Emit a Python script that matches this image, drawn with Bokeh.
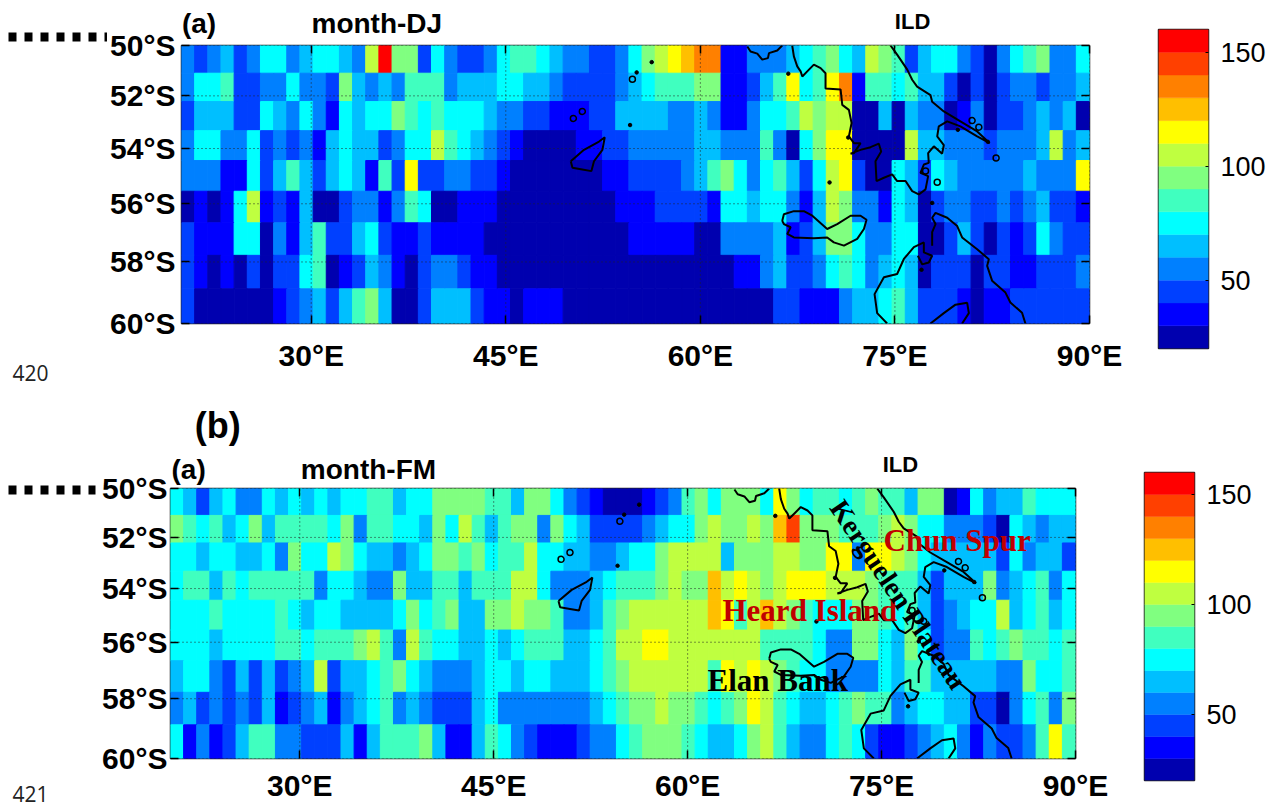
import math
import numpy as np
from bokeh.embed import file_html
from bokeh.layouts import column, row
from bokeh.models import FixedTicker, Label, LinearAxis, Range1d, ColumnDataSource
from bokeh.plotting import figure
from bokeh.resources import INLINE
from bokeh.transform import linear_cmap
from bokeh.core.properties import value

PALETTE = ["#0000AF", "#0000FF", "#0040FF", "#0080FF", "#00BFFF", "#00FFFF", "#40FFBF",
           "#80FF80", "#BFFF40", "#FFFF00", "#FFBF00", "#FF8000", "#FF4000", "#FF0000"]

LON_TICKS = [30, 45, 60, 75, 90]
LON_LABELS = ["30°E", "45°E", "60°E", "75°E", "90°E"]
LAT_TICKS = [50, 52, 54, 56, 58, 60]
LAT_LABELS = ["50°S", "52°S", "54°S", "56°S", "58°S", "60°S"]
BAR_TICKS = [50, 100, 150]

DJ_R0 = [55,45,55,65,45,55,75,75,55,65,75,75,65,55,105,155,95,95,45,75,55,45,45,55,75,85,85,75,65,55,55,45,45,55,75,
         95,105,115,125,135,135,35,35,55,55,55,65,75,85,95,75,65,105,95,85,45,65,75,75,55,45,25,55,75,85,95,55,55,75]
DJ_R1 = [55,75,75,85,45,45,55,55,75,55,55,45,95,65,55,65,55,85,85,85,55,65,65,65,75,75,65,65,55,45,45,45,45,55,
         65,75,85,85,85,95,95,35,35,45,65,85,115,75,85,115,135,35,85,85,75,85,65,65,45,25,45,25,45,55,55,45,55,55,65]
DJ_R2 = [45,65,65,65,45,45,75,65,55,75,55,35,75,65,75,75,95,85,75,85,75,75,75,65,55,55,45,45,35,35,35,45,45,65,
         65,65,65,55,55,65,55,35,35,55,75,75,85,105,95,105,105,25,25,65,25,65,55,55,25,35,55,25,45,45,55,65,55,65,25]
DJ_R3 = [55,75,75,55,55,75,45,55,45,55,35,65,75,65,65,45,55,75,75,105,85,75,65,55,45,35,25,25,25,25,35,35,45,45,
         55,55,55,55,55,65,65,55,55,55,85,55,25,75,95,115,115,25,25,25,25,105,65,65,55,55,55,45,55,55,55,65,105,55,65]
DJ_R4 = [55,55,55,35,35,75,45,65,85,65,45,65,75,65,35,85,45,115,45,45,55,55,45,45,35,25,25,25,25,25,25,25,35,35,
         45,45,45,45,55,65,85,95,75,55,75,85,65,45,75,105,115,45,25,25,75,65,45,75,65,55,55,55,55,55,65,55,55,55,115]
DJ_R5 = [25,35,25,35,75,105,35,45,35,65,25,25,45,55,55,35,55,85,75,25,25,35,35,35,25,25,25,25,25,25,25,25,25,35,
         35,35,45,45,45,45,35,75,75,65,75,75,55,35,65,105,95,55,55,35,75,65,25,45,55,55,45,45,55,45,55,65,45,45,35]
DJ_R6 = [45,35,35,35,75,75,25,55,35,65,85,45,45,65,75,45,35,35,45,35,35,35,35,25,25,25,25,25,25,25,25,25,25,25,
         35,35,35,35,35,25,25,55,55,55,55,65,35,45,65,95,95,75,55,55,75,75,25,25,45,65,45,25,45,35,45,75,55,45,45]
DJ_R7 = [45,35,25,35,25,45,25,45,45,75,85,25,35,45,65,55,35,25,45,55,55,45,35,35,25,25,25,25,25,25,25,25,25,25,
         25,25,25,25,25,25,25,25,35,35,55,65,45,45,55,75,85,75,55,65,75,65,25,45,45,45,25,45,45,35,35,45,45,45,55]
DJ_R8 = [45,25,25,25,25,25,25,35,45,55,65,45,65,85,95,65,25,25,45,65,65,65,45,35,35,25,35,35,35,25,25,25,25,25,
         25,25,25,25,25,25,25,25,25,25,25,45,45,35,35,35,55,65,65,75,85,65,45,45,45,35,25,35,35,45,45,45,45,45,45]
DJ_ROWS = [DJ_R0, DJ_R1, DJ_R2, DJ_R3, DJ_R4, DJ_R5, DJ_R6, DJ_R7, DJ_R8]

FM_R0 = [75,65,45,65,75,55,55,75,65,75,65,75,65,75,75,85,85,65,75,75,95,95,95,95,85,85,65,95,95,75,55,45,35,25,
         25,25,35,45,55,85,95,75,95,95,95,75,115,95,75,85,85,75,85,95,85,85,65,95,95,25,35,75,55,65,65,85,75,75,75]
FM_R1 = [95,85,75,85,65,75,95,65,85,85,85,85,75,95,55,85,85,75,75,65,95,75,105,85,65,85,95,95,55,95,75,65,45,45,
         45,45,55,65,75,75,95,105,95,95,105,95,125,145,95,95,95,85,85,85,95,105,95,75,75,55,55,55,45,25,75,65,55,65,65]
FM_R2 = [75,75,65,75,75,65,65,75,55,95,75,75,105,95,75,65,65,55,65,75,95,95,85,95,75,85,85,105,75,75,65,65,55,55,
         65,75,75,95,105,105,105,105,65,95,95,95,105,105,95,95,115,115,55,115,115,105,95,75,65,65,65,65,65,45,75,55,65,65,45]
FM_R3 = [75,85,85,65,85,75,85,85,85,85,85,55,75,75,65,55,55,95,65,65,85,85,65,85,85,85,105,105,75,55,55,55,65,75,
         85,85,85,95,105,95,95,125,105,115,105,95,105,115,115,115,105,105,105,95,85,85,85,65,45,65,65,65,95,55,65,75,85,55,75]
FM_R4 = [75,75,75,85,75,75,75,75,85,75,65,75,75,65,65,65,65,75,95,75,85,95,65,65,95,95,105,95,95,85,55,55,65,85,
         95,105,105,105,105,105,105,125,115,85,105,125,105,95,85,75,75,75,95,95,85,75,85,65,45,55,65,75,75,105,65,75,85,65,75]
FM_R5 = [75,75,75,65,75,75,75,75,85,85,75,85,85,85,95,105,85,55,105,85,75,75,65,65,75,65,75,85,85,85,65,65,75,85,
         105,105,115,115,105,105,105,105,105,105,105,85,85,85,85,75,55,55,95,95,75,65,95,75,45,55,55,85,75,85,95,85,85,75,85]
FM_R6 = [65,75,75,55,45,65,45,65,45,55,65,105,45,65,65,75,85,95,75,65,55,55,55,65,75,75,65,75,75,65,65,65,75,85,
         95,105,105,105,105,105,105,85,115,105,115,105,95,85,75,75,55,55,55,55,75,65,85,85,65,65,65,65,65,55,55,95,75,75,85]
FM_R7 = [55,65,45,55,45,55,45,65,35,45,55,65,35,55,65,75,85,55,65,55,45,45,45,65,75,55,55,55,55,55,55,55,65,75,
         85,95,95,105,95,95,85,75,85,95,115,105,85,75,65,65,75,85,95,85,85,55,65,75,75,65,65,45,45,25,55,75,85,55,95]
FM_R8 = [75,35,55,35,45,65,85,85,55,55,45,45,45,65,35,65,85,85,85,95,65,35,35,65,85,75,55,45,35,35,35,45,55,55,
         75,85,95,95,95,85,75,65,65,75,95,105,85,65,55,55,75,85,75,45,35,35,45,55,65,75,55,35,55,45,45,55,85,115,85]
FM_ROWS = [FM_R0, FM_R1, FM_R2, FM_R3, FM_R4, FM_R5, FM_R6, FM_R7, FM_R8]

# coastlines, (lon, lat south)
COAST_A_LON = [63.62,63.87,64.39,64.77,65.21,65.29,65.93,66.31]
COAST_A_LAT = [50.04,50.24,50.33,50.57,50.51,50.31,50.2,50.0]
COAST_B_LON = [67.08,67.21,67.47,67.73,67.86,68.24,68.75,69.27,69.65,69.65,70.81,70.94,71.45,71.66,71.45,71.84,72.35,71.84,71.58,72.35,73.12,73.76,73.94,73.5,73.58,74.15,74.79,75.17,75.82,76.33,76.84,77.36,77.56,76.97,77.23,77.61,77.56,78.0,78.64,78.77,78.26,78.38,79.03,80.05,81.34,82.31,81.34,80.05,78.77,77.87,77.74,76.71,76.33,75.95,75.17,74.66]
COAST_B_LAT = [50.0,50.44,50.84,51.04,51.24,51.04,50.77,50.91,51.11,51.71,51.75,52.35,52.54,53.04,53.55,53.8,53.8,54.17,54.19,54.05,53.95,53.82,54.11,54.47,55.19,55.07,54.95,55.19,55.19,55.55,55.67,55.49,55.01,54.89,54.59,54.53,54.17,53.92,54.19,53.87,53.55,53.17,52.98,53.17,53.55,53.8,53.36,52.98,52.6,52.23,51.97,51.64,51.37,50.97,50.37,50.0]
COAST_C_LON = [66.31,66.44,67.21,67.98,68.63,69.78,70.55,71.58,72.35,72.81,72.61,72.09,71.07,70.29,69.78,68.75,67.21,66.7,66.96,66.44,66.31]
COAST_C_LAT = [56.6,56.37,56.26,56.26,56.42,56.88,56.71,56.42,56.42,56.56,56.88,57.22,57.45,57.34,57.17,57.2,57.17,57.05,56.82,56.71,56.6]
COAST_D_LON = [74.4,73.63,73.43,74.15,75.17,75.69,76.46,77.23,77.23,77.87,77.61,77.1,76.77]
COAST_D_LAT = [60,59.67,59.06,58.51,58.4,57.9,57.5,57.34,57.68,57.79,58.02,58.08,57.79]
COAST_G_LON = [77.87,77.87,78.13,77.87,78.13,79.03,79.8,80.18,81.34,82.24,82.11,82.49,83.52,83.9,84.8,85.06]
COAST_G_LAT = [57.45,56.99,56.71,56.49,56.32,56.49,56.78,57.17,57.57,57.91,58.13,58.62,59.01,59.33,59.66,60]
COAST_E_LON = [77.74,78.77,79.67,80.57,80.7,80.18]
COAST_E_LAT = [60,59.67,59.4,59.34,59.67,60]
COAST_F_LON = [50.01,51.03,52.19,52.63,52.45,51.8,51.6,50.9,50.14,50.01]
COAST_F_LAT = [54.47,54.05,53.74,53.58,54.05,54.47,54.83,54.77,54.71,54.47]
RING_LON = [54.76,82.8,78.26,77.36,80.95,81.47,50.21,50.9]
RING_LAT = [51.35,54.35,55.23,54.83,52.95,53.2,52.87,52.6]
DOT_LON = [55.09,54.58,56.25,66.78,69.96,71.4,77.87,77.05,79.85,82.16]
DOT_LAT = [51.08,53.12,50.67,51.13,55.24,53.59,55.97,58.26,53.3,53.75]

SANS = "Liberation Sans"
SERIF = "Liberation Serif"


def merc(lat):
    return -math.log(math.tan(math.pi / 4 + math.radians(lat) / 2))


def panel(rows, width, height, left, right, top, bottom, xstand, ystand):
    lon_edges = np.linspace(20, 90, 70)
    lat_edges = np.linspace(50, 60, 10)
    l, r, t, b, v = [], [], [], [], []
    for i, vals in enumerate(rows):
        for j, val in enumerate(vals):
            l.append(lon_edges[j]); r.append(lon_edges[j + 1])
            t.append(merc(lat_edges[i])); b.append(merc(lat_edges[i + 1]))
            v.append(val)
    ytk = [round(merc(x), 8) for x in LAT_TICKS]
    p = figure(width=width, height=height, x_range=Range1d(20, 90),
               y_range=Range1d(ytk[-1] - 1e-6, ytk[0] + 1e-6), frame_align=False,
               min_border_left=left, min_border_right=right, min_border_top=top, min_border_bottom=bottom,
               output_backend="svg", toolbar_location=None, tools="")
    cmap = linear_cmap("v", PALETTE, 20, 160)
    p.quad(left="l", right="r", top="t", bottom="b", source=ColumnDataSource(dict(l=l, r=r, t=t, b=b, v=v)),
           fill_color=cmap, line_color=cmap, line_width=1)
    p.grid.visible = False
    p.segment(LON_TICKS, [ytk[-1]] * 5, LON_TICKS, [ytk[0]] * 5, line_color="#222222", line_dash="1 3", line_width=1)
    p.segment([20] * 6, ytk, [90] * 6, ytk, line_color="#222222", line_dash="1 3", line_width=1)
    lons = [COAST_A_LON, COAST_B_LON, COAST_C_LON, COAST_D_LON, COAST_G_LON, COAST_E_LON, COAST_F_LON]
    lats = [COAST_A_LAT, COAST_B_LAT, COAST_C_LAT, COAST_D_LAT, COAST_G_LAT, COAST_E_LAT, COAST_F_LAT]
    p.multi_line(lons, [[merc(a) for a in s] for s in lats], line_color="black", line_width=2)
    p.scatter(RING_LON, [merc(a) for a in RING_LAT], marker="circle", size=6, fill_color=None,
              line_color="black", line_width=1.5)
    p.scatter(DOT_LON, [merc(a) for a in DOT_LAT], marker="circle", size=3.5, fill_color="black", line_color="black")

    p.below[0].ticker = FixedTicker(ticks=LON_TICKS)
    p.below[0].major_label_overrides = dict(zip(LON_TICKS, LON_LABELS))
    p.left[0].ticker = FixedTicker(ticks=ytk)
    p.left[0].major_label_overrides = dict(zip(ytk, LAT_LABELS))
    p.add_layout(LinearAxis(ticker=FixedTicker(ticks=LON_TICKS)), "above")
    p.add_layout(LinearAxis(ticker=FixedTicker(ticks=ytk)), "right")
    for ax in p.above + p.right:
        ax.major_label_text_font_size = "1px"
        ax.major_label_text_color = None
        ax.major_label_standoff = 0
    for ax in p.above + p.right + p.left + p.below:
        ax.major_tick_in = 8
        ax.major_tick_out = 0
        ax.major_tick_line_color = "black"
        ax.major_tick_line_width = 1.5
        ax.minor_tick_line_color = None
        ax.axis_line_color = None
    for ax in p.left + p.below:
        ax.major_label_text_font = SANS
        ax.major_label_text_font_style = "bold"
        ax.major_label_text_font_size = "30px"
        ax.major_label_text_color = "black"
    p.left[0].major_label_standoff = ystand
    p.below[0].major_label_standoff = xstand
    p.outline_line_color = "#222222"
    p.outline_line_width = 1.5
    p.background_fill_color = "white"
    return p


def text_axis(p, where, lons, texts, size, standoff, font=SANS):
    """Texts that lie outside the frame, carried by an axis of their own."""
    ax = LinearAxis(ticker=FixedTicker(ticks=lons), major_label_overrides=dict(zip(lons, texts)),
                    major_tick_in=0, major_tick_out=0, minor_tick_line_color=None, major_tick_line_color=None,
                    axis_line_color=None, major_label_standoff=standoff, major_label_text_font=font,
                    major_label_text_font_style="bold", major_label_text_font_size=f"{size}px",
                    major_label_text_color="black")
    p.add_layout(ax, where)


def txt(p, frame_left, frame_bottom, x, y, text, font=SERIF, size=30, color="black", align="left", angle=0):
    p.add_layout(Label(x=x - frame_left, y=frame_bottom - y, x_units="screen", y_units="screen", text=text,
                       text_font=font, text_font_size=f"{size}px", text_font_style="bold", text_color=color,
                       text_align=align, text_baseline="middle", angle=angle, angle_units="deg", level="guide"))


def colorbar(width, height, left, right, top, bottom):
    p = figure(width=width, height=height, x_range=Range1d(0, 1), y_range=Range1d(20, 160), frame_align=False,
               min_border_left=left, min_border_right=right, min_border_top=top, min_border_bottom=bottom,
               y_axis_location="right", output_backend="svg", toolbar_location=None, tools="")
    edges = np.arange(20, 170, 10)
    p.quad(left=0, right=1, bottom=edges[:-1], top=edges[1:], fill_color=PALETTE, line_color=PALETTE, line_width=0.4)
    p.xaxis.visible = False
    p.xgrid.visible = False
    p.ygrid.visible = False
    ax = p.yaxis[0]
    ax.ticker = FixedTicker(ticks=BAR_TICKS)
    ax.major_tick_in = 3
    ax.major_tick_out = 0
    ax.major_tick_line_color = "black"
    ax.minor_tick_line_color = None
    ax.axis_line_color = None
    ax.major_label_text_font = SANS
    ax.major_label_text_font_size = "27px"
    ax.major_label_text_color = "black"
    ax.major_label_standoff = 12
    p.outline_line_color = "#222222"
    p.outline_line_width = 1.5
    return p


def side(width, height, y_top, y_dash, x_end, text, y_text):
    p = figure(width=width, height=height, x_range=Range1d(0, width), y_range=Range1d(y_top + height, y_top),
               frame_align=False, min_border=0, output_backend="svg", toolbar_location=None, tools="")
    p.xaxis.visible = False
    p.yaxis.visible = False
    p.grid.visible = False
    p.outline_line_color = None
    p.line([8, x_end], [y_dash, y_dash], line_color="black", line_width=9, line_dash="8 8")
    p.text([12], [y_text], text=[text], text_font=value("Open Sans"), text_font_size="21px", text_color="#222222",
           text_baseline="middle")
    return p


# panel (a)
side_a = side(107, 448, 0, 36.5, 107, "420", 372)
map_a = panel(DJ_ROWS, 1018, 448, 74, 36, 45, 125, 15, 6)
bar_a = colorbar(149, 448, 33, 66, 29, 100)
text_axis(map_a, "above", [21.35, 35.06], ["(a)", "month-DJ"], 28, 7)
text_axis(map_a, "above", [76.36], ["ILD"], 22, -29)
text_axis(map_a, "below", [22.8], ["(b)"], 36, 30)

# panel (b)
side_b = side(98, 359, 448, 489.5, 95, "421", 793)
map_b = panel(FM_ROWS, 1014, 359, 72, 37, 40, 49, 10, 3)
bar_b = colorbar(162, 359, 32, 80, 24, 27)
text_axis(map_b, "above", [21.4, 35.31], ["(a)", "month-FM"], 28, 4)
text_axis(map_b, "above", [76.46], ["ILD"], 22, -26)
txt(map_b, 170, 758, 883, 540, "Chun Spur", size=31, color="#C00000")
txt(map_b, 170, 758, 722, 610, "Heard Island", size=31, color="#C00000")
txt(map_b, 170, 758, 707, 680, "Elan Bank", size=31)
txt(map_b, 170, 758, 898, 594, "Kerguelen Plateau", size=28, align="center", angle=-56)

page = column(row(side_a, map_a, bar_a, spacing=0), row(side_b, map_b, bar_b, spacing=0), spacing=0)
open("out.html", "w").write(file_html(page, INLINE))
